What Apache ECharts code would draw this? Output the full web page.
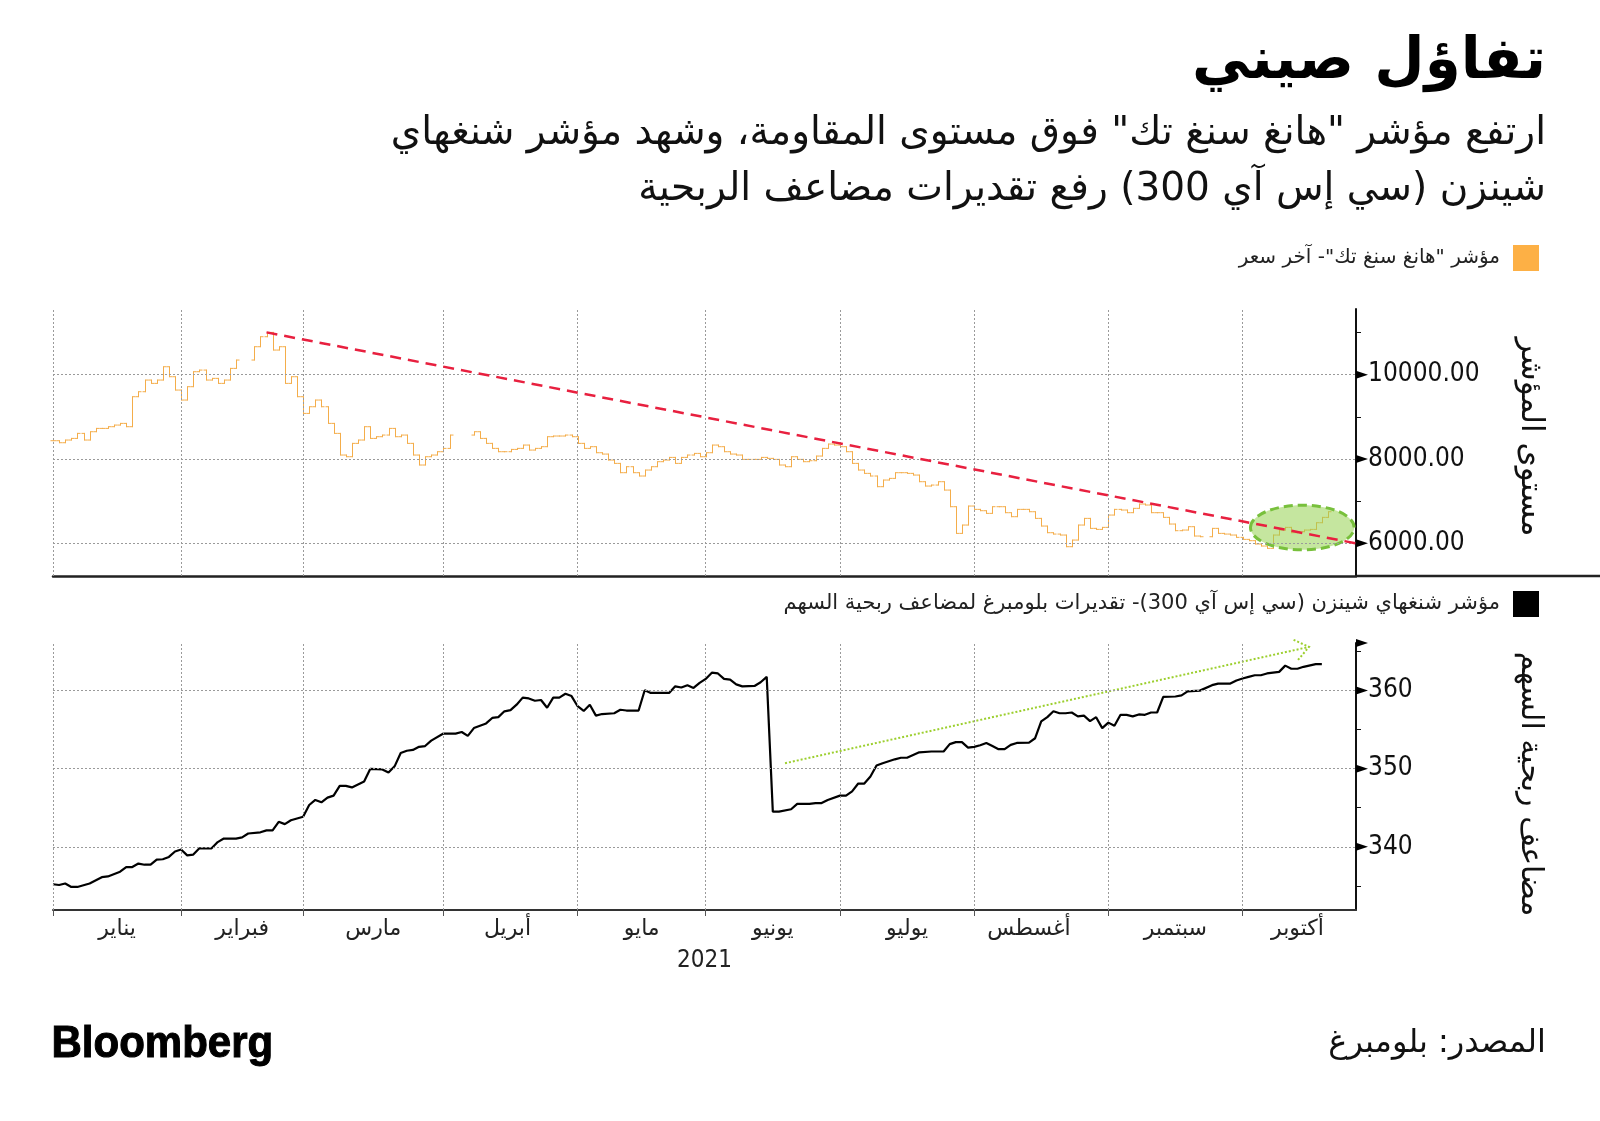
<!DOCTYPE html>
<html><head><meta charset="utf-8">
<script src="https://cdn.jsdelivr.net/npm/echarts@6/dist/echarts.min.js"></script>
<style>html,body{margin:0;padding:0;background:#fff}#c{width:1600px;height:1121px;direction:rtl}</style>
</head><body><div id="c"></div>
<script>
// ---- categories / axis data (x = weekday index counted from 1 Jan 2021) ----
const monthNames = ['يناير','فبراير','مارس','أبريل','مايو','يونيو','يوليو','أغسطس','سبتمبر','أكتوبر'];
const monthStart = [0,21,41,64,86,107,129,151,173,195];
const monthLabelPos = [10.5,31,52.5,74.5,96.5,118,140,160,184,204];
const axisEnd = 213.6;
const yearLabel = '2021';

// ---- Hang Seng Tech index, daily close (null = market holiday) ----
const hstClose = [
8435,8387,8451,8490,8609,8451,8648,8727,8727,8767,
8806,8846,8767,9479,9597,9874,9795,9874,10190,9953,
9637,9400,9716,10072,10111,9874,9914,9795,9874,10151,
10349,null,null,10665,10902,11005,10586,10665,9795,9953,
9479,9083,9241,9400,9241,8846,8609,8095,8055,8372,
8451,8767,8490,8530,8569,8727,8530,8569,8372,8095,
7858,8055,8095,8174,8253,8569,null,null,null,8648,
8490,8372,8253,8174,8174,8229,8253,8332,8213,8253,
8293,8530,8546,8546,8569,8530,8372,8253,8293,8150,
8118,7976,7897,7676,7818,7676,7597,7739,7818,7937,
7976,8039,7897,8039,8095,8134,8055,8150,8332,8293,
8174,8118,8095,7992,7992,7992,8039,8016,7992,7858,
7818,8055,7992,7937,7960,8071,8253,8356,8332,8293,
8174,7897,7739,7660,7597,7344,7502,7541,7676,7676,
7660,7620,7462,7359,7383,7462,7264,6869,6236,6434,
6885,6806,6774,6711,6869,6869,6727,6632,6806,6806,
6750,6592,6410,6252,6220,6197,5920,6078,6434,6592,
6355,6331,6379,6671,6806,6790,6727,6830,6932,6909,
6727,6727,6616,6458,6300,6315,6395,6173,6157,null,
6355,6236,6220,6197,6142,6094,6063,5984,5936,5881,
6197,6315,6379,6252,6276,6315,6331,6489,6616,6750
];

// ---- CSI 300 Bloomberg P/E estimate ----
const peDays = [0,1,2,3,4,6,8,9,11,12,13,14,15,16,17,18,19,20,21,22,23,24,26,27,28,30,31,32,34,35,36,37,38,39,41,42,43,44,45,46,47,48,49,51,52,54,55,56,57,58,59,60,61,62,64,65,66,67,68,69,70,71,72,73,74,75,76,77,78,79,80,81,82,83,84,85,86,87,88,89,90,92,93,94,96,97,98,101,102,103,104,105,106,107,108,109,110,111,112,113,115,116,117,118,119,121,122,124,125,126,127,129,130,131,132,133,134,135,136,138,139,140,142,144,146,147,148,149,150,151,152,153,154,155,156,157,158,160,161,162,163,164,165,166,167,168,169,170,171,172,173,174,175,176,177,178,179,180,181,182,184,185,186,188,190,191,193,194,195,196,197,198,199,201,202,203,204,205,207,208];
const peValues = [335.2,335.1,335.3,334.85,334.85,335.3,336.1,336.2,336.8,337.4,337.4,337.85,337.7,337.7,338.35,338.4,338.7,339.4,339.65,338.9,339.0,339.8,339.8,340.6,341.05,341.05,341.2,341.7,341.85,342.1,342.1,343.2,342.9,343.4,343.85,345.35,346.0,345.7,346.3,346.55,347.8,347.8,347.6,348.35,349.97,349.9,349.5,350.3,352.0,352.3,352.4,352.8,352.9,353.6,354.5,354.5,354.5,354.7,354.2,355.2,355.5,355.8,356.5,356.6,357.35,357.5,358.2,359.1,359.0,358.7,358.8,357.8,359.1,359.1,359.6,359.3,358.0,357.4,358.2,356.8,357.0,357.1,357.55,357.45,357.45,360.05,359.7,359.7,360.55,360.4,360.7,360.35,361.0,361.5,362.3,362.2,361.5,361.4,360.8,360.55,360.6,361.07,361.76,344.5,344.5,344.8,345.5,345.5,345.6,345.6,346.0,346.55,346.55,347.1,348.1,348.1,349.0,350.4,350.7,351.2,351.4,351.4,352.1,352.2,352.2,353.15,353.4,353.4,352.7,352.8,353.0,353.3,352.9,352.5,352.5,353.05,353.3,353.35,353.9,356.05,356.6,357.35,357.1,357.1,357.2,356.7,356.8,356.1,356.6,355.2,355.9,355.5,356.9,356.9,356.7,356.95,356.9,357.2,357.2,359.2,359.25,359.4,359.9,360.0,360.7,360.9,360.9,361.3,361.55,361.76,361.97,361.97,362.2,362.4,363.2,362.8,362.8,363.05,363.4,363.4];

// ---- annotations (data units) ----
const resistanceLine = [[35, 11005], [213.6, 6000]];
const breakoutZone = [204.8, 6375, 8.5, 530]; // centre x, centre y, half-width (days), half-height (index pts)
const peTrendArrow = [[120, 350.7], [205.9, 365.6]];

// ---- axis ticks ----
const hstMajor = [6000, 8000, 10000];
const hstMinor = [7000, 9000, 11000];
const peMajor = [340, 350, 360];
const peMinor = [335, 345, 355, 365];

const hstName = 'مؤشر "هانغ سنغ تك"- آخر سعر';
const peName = 'مؤشر شنغهاي شينزن (سي إس آي 300)- تقديرات بلومبرغ لمضاعف ربحية السهم';

const AR = '"DejaVu Sans", sans-serif';
const NUM = '"DejaVu Sans Condensed", "DejaVu Sans", sans-serif';

const ohlc = [];
let prev = null;
hstClose.forEach((c, i) => { if (c == null) return; ohlc.push([i, prev == null ? c : prev, c]); prev = c; });
const peData = peDays.map((d, i) => [d, peValues[i]]);

function gridLines(ticks) {
  return {
    silent: true, symbol: 'none', label: { show: false },
    lineStyle: { color: '#9a9a9a', type: [2, 2], width: 1 },
    emphasis: { disabled: true },
    data: monthStart.map(v => ({ xAxis: v })).concat(ticks.map(v => ({ yAxis: v })))
  };
}
function triSeries(xi, vals) {
  return {
    type: 'custom', xAxisIndex: xi, yAxisIndex: xi, silent: true, z: 5, clip: false,
    data: vals.map(v => [axisEnd, v]),
    renderItem(p, api) {
      const pt = api.coord([api.value(0), api.value(1)]);
      return { type: 'polygon', shape: { points: [[pt[0], pt[1] - 4], [pt[0] + 12, pt[1]], [pt[0], pt[1] + 4]] }, style: { fill: '#000' } };
    }
  };
}
const barColor = '#f4ad4a';
const legendText = { fontSize: 20, fontFamily: AR, color: '#222', padding: [0, 8, 0, 0] };

const chart = echarts.init(document.getElementById('c'), null, { renderer: 'canvas' });
chart.setOption({
  animation: false,
  backgroundColor: '#fff',
  grid: [
    { left: 53, right: 244, top: 309, height: 267 },
    { left: 53, right: 244, top: 643, height: 267 }
  ],
  legend: [
    { data: [{ name: hstName, icon: 'rect' }], right: 56, top: 240, align: 'right', itemWidth: 26, itemHeight: 26, selectedMode: false, textStyle: legendText },
    { data: [{ name: peName, icon: 'rect' }], right: 56, top: 586, align: 'right', itemWidth: 26, itemHeight: 26, selectedMode: false, textStyle: Object.assign({}, legendText, { fontSize: 21 }) }
  ],
  xAxis: [
    { type: 'value', gridIndex: 0, min: 0, max: axisEnd,
      axisLine: { show: true, onZero: false, lineStyle: { color: '#222', width: 2.5 } },
      axisTick: { show: false }, axisLabel: { show: false }, splitLine: { show: false } },
    { type: 'value', gridIndex: 1, min: 0, max: axisEnd,
      axisLine: { show: true, onZero: false, lineStyle: { color: '#333', width: 2 } },
      axisTick: { show: true, length: 6, customValues: monthStart, lineStyle: { color: '#555', width: 1 } },
      axisLabel: { show: true, customValues: monthLabelPos, margin: 8, fontSize: 22, fontFamily: AR, color: '#222',
        formatter: v => { const i = monthLabelPos.indexOf(v); return i >= 0 ? monthNames[i] : ''; } },
      splitLine: { show: false },
      name: yearLabel, nameLocation: 'middle', nameGap: 39, nameTextStyle: { fontSize: 24, fontFamily: NUM, color: '#222' } }
  ],
  yAxis: [
    { type: 'value', gridIndex: 0, position: 'right', min: 5225, max: 11560,
      axisLine: { show: true, onZero: false, lineStyle: { color: '#111', width: 2 } },
      axisTick: { show: true, inside: false, length: 5, customValues: hstMinor, lineStyle: { color: '#111' } },
      axisLabel: { show: true, customValues: hstMajor, margin: 12, fontSize: 26, fontFamily: NUM, color: '#111', formatter: v => v.toFixed(2) },
      splitLine: { show: false } },
    { type: 'value', gridIndex: 1, position: 'right', min: 331.9, max: 366.1,
      axisLine: { show: true, onZero: false, lineStyle: { color: '#111', width: 2 } },
      axisTick: { show: true, inside: false, length: 5, customValues: peMinor, lineStyle: { color: '#111' } },
      axisLabel: { show: true, customValues: peMajor, margin: 12, fontSize: 26, fontFamily: NUM, color: '#111', formatter: v => String(v) },
      splitLine: { show: false } }
  ],
  series: [
    { type: 'line', xAxisIndex: 0, yAxisIndex: 0, data: [], z: 1, silent: true, markLine: gridLines(hstMajor) },
    { type: 'line', xAxisIndex: 1, yAxisIndex: 1, data: [], z: 1, silent: true, markLine: gridLines(peMajor) },
    {
      name: hstName, type: 'custom', xAxisIndex: 0, yAxisIndex: 0, z: 3,
      itemStyle: { color: '#fdb045' },
      encode: { x: 0, y: [1, 2] },
      data: ohlc,
      renderItem(p, api) {
        const x = api.value(0), o = api.value(1), c = api.value(2);
        const po = api.coord([x, o]), pc = api.coord([x, c]);
        const px = Math.round(po[0]) + 0.5;
        const lo = Math.min(po[1], pc[1]), hi = Math.max(po[1], pc[1]);
        const st = { stroke: barColor, lineWidth: 1 };
        return { type: 'group', children: [
          { type: 'line', shape: { x1: px, y1: lo - 0.5, x2: px, y2: hi + 0.5 }, style: st },
          { type: 'line', shape: { x1: px - 3, y1: po[1], x2: px, y2: po[1] }, style: st },
          { type: 'line', shape: { x1: px, y1: pc[1], x2: px + 3, y2: pc[1] }, style: st }
        ] };
      }
    },
    {
      type: 'custom', xAxisIndex: 0, yAxisIndex: 0, z: 4, silent: true,
      data: [breakoutZone],
      renderItem(p, api) {
        const c = api.coord([api.value(0), api.value(1)]);
        const s = api.size([api.value(2), api.value(3)]);
        return { type: 'ellipse', shape: { cx: c[0], cy: c[1], rx: s[0], ry: s[1] },
          style: { fill: 'rgba(150,210,80,0.55)', stroke: '#78c03c', lineWidth: 3, lineDash: [9, 5] } };
      }
    },
    {
      type: 'line', xAxisIndex: 0, yAxisIndex: 0, z: 6, silent: true, symbol: 'none',
      data: resistanceLine,
      lineStyle: { color: '#e8203f', width: 2.5, type: [11, 7] }
    },
    {
      name: peName, type: 'line', xAxisIndex: 1, yAxisIndex: 1, z: 3, symbol: 'none',
      data: peData, itemStyle: { color: '#000' },
      lineStyle: { color: '#000', width: 2.2 }
    },
    {
      type: 'custom', xAxisIndex: 1, yAxisIndex: 1, z: 4, silent: true,
      data: [[peTrendArrow[0][0], peTrendArrow[0][1], peTrendArrow[1][0], peTrendArrow[1][1]]],
      renderItem(p, api) {
        const a = api.coord([api.value(0), api.value(1)]);
        const b = api.coord([api.value(2), api.value(3)]);
        const ang = Math.atan2(b[1] - a[1], b[0] - a[0]);
        const L = 17, w = 0.65;
        const p1 = [b[0] - L * Math.cos(ang - w), b[1] - L * Math.sin(ang - w)];
        const p2 = [b[0] - L * Math.cos(ang + w), b[1] - L * Math.sin(ang + w)];
        const st = { stroke: '#9ccf2e', lineWidth: 2, lineDash: [2, 2], fill: null };
        return { type: 'group', children: [
          { type: 'line', shape: { x1: a[0], y1: a[1], x2: b[0], y2: b[1] }, style: st },
          { type: 'polyline', shape: { points: [p1, b, p2] }, style: st }
        ] };
      }
    },
    triSeries(0, hstMajor),
    triSeries(1, peMajor.concat([366.1]))
  ],
  graphic: [
    { type: 'text', right: 54, top: 34, style: { text: 'تفاؤل صيني', font: 'bold 58px ' + AR, fill: '#000' } },
    { type: 'text', right: 54, top: 114, style: { text: 'ارتفع مؤشر "هانغ سنغ تك" فوق مستوى المقاومة، وشهد مؤشر شنغهاي', font: '39px ' + AR, fill: '#111' } },
    { type: 'text', right: 54, top: 170, style: { text: 'شينزن (سي إس آي 300) رفع تقديرات مضاعف الربحية', font: '39px ' + AR, fill: '#111' } },
    { type: 'text', x: 1530, y: 437, rotation: -Math.PI / 2, style: { text: 'مستوى المؤشر', font: '31px ' + AR, fill: '#111', align: 'center', verticalAlign: 'middle' } },
    { type: 'text', x: 1530, y: 784, rotation: -Math.PI / 2, style: { text: 'مضاعف ربحية السهم', font: '30px ' + AR, fill: '#111', align: 'center', verticalAlign: 'middle' } },
    { type: 'line', shape: { x1: 1356, y1: 576, x2: 1600, y2: 576 }, style: { stroke: '#222', lineWidth: 2.5 } },
    { type: 'text', left: 51, top: 1022, scaleX: 0.955, style: { text: 'Bloomberg', font: 'bold 44px "Liberation Sans", sans-serif', fill: '#000', stroke: '#000', lineWidth: 1 } },
    { type: 'text', right: 54, top: 1028, style: { text: 'المصدر: بلومبرغ', font: '32px ' + AR, fill: '#111' } }
  ]
});
</script></body></html>
